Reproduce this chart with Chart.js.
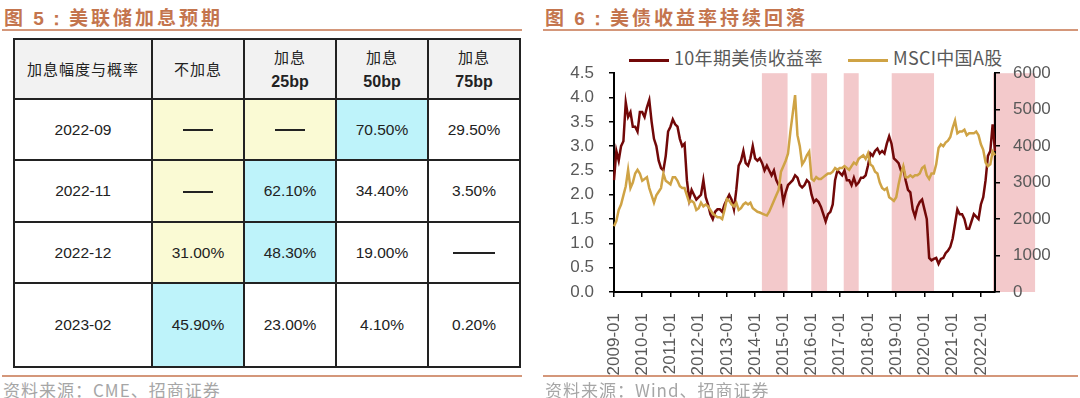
<!DOCTYPE html>
<html lang="zh">
<head>
<meta charset="UTF-8">
<title>美联储加息预期 / 美债收益率持续回落</title>
<script src="https://cdn.jsdelivr.net/npm/chart.js"></script>
<style>
    body {
        margin: 0;
        width: 1080px;
        height: 398px;
        background: #fff;
        overflow: hidden;
        position: relative;
        font-family: 'Liberation Sans', Arial, 'Noto Sans CJK SC', sans-serif;
    }
    .title {
        position: absolute;
        top: 3px;
        font-family: 'Noto Sans CJK SC', sans-serif;
        font-size: 19px;
        font-weight: bold;
        letter-spacing: 3px;
        color: #C4754E;
        white-space: nowrap;
    }
    .title b { font-family: 'Liberation Sans', Arial, sans-serif; }
    .rule {
        position: absolute;
        height: 2px;
        background: #D4977A;
    }
    .source {
        position: absolute;
        top: 377px;
        font-family: 'Noto Sans CJK SC', sans-serif;
        font-size: 17px;
        letter-spacing: 1px;
        color: #A6A6A6;
        white-space: nowrap;
    }
    table {
        position: absolute;
        left: 13px;
        top: 38px;
        border-collapse: collapse;
        table-layout: fixed;
        width: 506px;
    }
    td {
        border: 2px solid #222;
        text-align: center;
        vertical-align: middle;
        font-size: 15.5px;
        color: #222;
        padding: 0;
    }
    tr.head td {
        background: #F2F2F2;
        font-family: 'Noto Sans CJK SC', sans-serif;
        font-size: 15px;
        line-height: 24px;
        letter-spacing: 1px;
    }
    tr.head b { font-family: 'Liberation Sans', Arial, sans-serif; font-size: 16px; letter-spacing: 0; }
    .yl { background: #FAFAD4; }
    .cy { background: #BEF3FA; }
    .dash { display: inline-block; width: 30px; border-top: 2px solid #222; vertical-align: middle; }
    .dash.long { width: 42px; }
    #chart { position: absolute; left: 545px; top: 48px; }
    .legend {
        position: absolute;
        top: 46px;
        font-family: 'Noto Sans CJK SC', sans-serif;
        font-size: 18px;
        letter-spacing: 0.3px;
        color: #595959;
        white-space: nowrap;
        line-height: 22px;
    }
    .legend i {
        display: inline-block;
        width: 40px;
        height: 3px;
        vertical-align: middle;
        margin-right: 5px;
    }
</style>
</head>
<body>
    <div class="title" style="left:4px">图 <b>5：</b>美联储加息预期</div>
    <div class="rule" style="left:2px; width:520px; top:29px"></div>

    <table>
        <colgroup>
            <col style="width:138px"><col style="width:92px"><col style="width:92px"><col style="width:92px"><col style="width:92px">
        </colgroup>
        <tr class="head" style="height:60px">
            <td>加息幅度与概率</td>
            <td>不加息</td>
            <td>加息<br><b>25bp</b></td>
            <td>加息<br><b>50bp</b></td>
            <td>加息<br><b>75bp</b></td>
        </tr>
        <tr style="height:61px">
            <td>2022-09</td>
            <td class="yl"><span class="dash"></span></td>
            <td class="yl"><span class="dash"></span></td>
            <td class="cy">70.50%</td>
            <td>29.50%</td>
        </tr>
        <tr style="height:62px">
            <td>2022-11</td>
            <td class="yl"><span class="dash"></span></td>
            <td class="cy">62.10%</td>
            <td>34.40%</td>
            <td>3.50%</td>
        </tr>
        <tr style="height:61px">
            <td>2022-12</td>
            <td class="yl">31.00%</td>
            <td class="cy">48.30%</td>
            <td>19.00%</td>
            <td><span class="dash long"></span></td>
        </tr>
        <tr style="height:84px">
            <td>2023-02</td>
            <td class="cy">45.90%</td>
            <td>23.00%</td>
            <td>4.10%</td>
            <td>0.20%</td>
        </tr>
    </table>

    <div class="rule" style="left:2px; width:520px; top:375px"></div>
    <div class="source" style="left:3px">资料来源：CME、招商证券</div>

    <div class="title" style="left:545px">图 <b>6：</b>美债收益率持续回落</div>
    <div class="rule" style="left:543px; width:535px; top:29px"></div>

    <div class="legend" style="left:629px"><i style="background:#720808"></i>10年期美债收益率</div>
    <div class="legend" style="left:848px"><i style="background:#CFA345"></i>MSCI中国A股</div>

    <canvas id="chart" width="535" height="328"></canvas>

    <div class="rule" style="left:543px; width:535px; top:375px"></div>
    <div class="source" style="left:545px">资料来源：Wind、招商证券</div>

<script>
    // monthly, 2009-01 .. 2022-07
    const months = [];
    for (let y = 2009; y <= 2022; y++) {
        for (let m = 1; m <= 12; m++) {
            if (y === 2022 && m > 7) break;
            months.push(y + '-' + String(m).padStart(2, '0'));
        }
    }

    // 10年期美债收益率 (%)
    const yieldVals = [
        2.3, 2.9, 2.7, 3.0, 3.1, 3.9, 3.6, 3.7, 3.4, 3.4, 3.3, 3.7,
        3.7, 3.6, 3.8, 3.95, 3.5, 3.15, 3.0, 2.7, 2.55, 2.5, 2.8, 3.3,
        3.4, 3.55, 3.45, 3.4, 3.15, 3.0, 3.05, 2.3, 1.9, 2.1, 2.0, 1.9,
        1.95, 2.0, 2.3, 1.95, 1.8, 1.6, 1.5, 1.65, 1.7, 1.7, 1.65, 1.8,
        1.9, 2.0, 1.9, 1.7, 2.1, 2.6, 2.7, 2.9, 2.65, 2.6, 2.75, 3.0,
        2.75, 2.7, 2.75, 2.65, 2.5, 2.6, 2.5, 2.4, 2.5, 2.3, 2.2, 2.2,
        1.85, 2.05, 2.2, 2.25, 2.3, 2.4, 2.35, 2.2, 2.15, 2.2, 2.3, 2.25,
        2.0, 1.85, 1.9, 1.85, 1.75, 1.6, 1.45, 1.6, 1.65, 1.8, 2.3, 2.5,
        2.45, 2.4, 2.5, 2.3, 2.3, 2.2, 2.35, 2.2, 2.25, 2.35, 2.35, 2.4,
        2.6, 2.85, 2.8, 2.9, 2.95, 2.85, 2.9, 2.85, 3.05, 3.2, 3.05, 2.75,
        2.7, 2.65, 2.5, 2.55, 2.3, 2.1, 2.05, 1.7, 1.55, 1.75, 1.85, 1.9,
        1.7, 1.5, 0.7, 0.65, 0.68, 0.7, 0.58, 0.68, 0.7, 0.8, 0.85, 0.93,
        1.1, 1.4, 1.7, 1.6, 1.6, 1.5, 1.3, 1.3, 1.45, 1.6, 1.55, 1.5,
        1.8, 1.95, 2.3, 2.8, 2.9, 3.45, 2.9
    ];

    // MSCI中国A股 (right axis)
    const msciVals = [
        1800, 1950, 2250, 2400, 2650, 2900, 3350, 2850, 3000, 3250, 3350, 3250,
        3050, 3100, 3150, 2850, 2650, 2450, 2650, 2750, 2850, 3250, 3050, 3000,
        2950, 3150, 3150, 3050, 2900, 2850, 2850, 2650, 2450, 2500, 2450, 2250,
        2300, 2450, 2350, 2400, 2350, 2250, 2150, 2100, 2050, 2050, 2000, 2250,
        2550, 2500, 2400, 2350, 2450, 2250, 2300, 2400, 2450, 2400, 2450, 2300,
        2250, 2200, 2180, 2150, 2120, 2100, 2200, 2350, 2500, 2650, 2800, 3300,
        3450, 3600, 3800, 4400, 4900, 5400, 4300, 4000, 3500, 3600, 3750, 3850,
        3100, 3050, 3150, 3100, 3100, 3150, 3200, 3250, 3250, 3300, 3400, 3350,
        3400, 3400, 3450, 3400, 3350, 3450, 3550, 3500, 3650, 3700, 3750, 3650,
        3800, 3500, 3450, 3300, 3250, 3000, 2850, 2800, 2850, 2600, 2550, 2500,
        2600, 2950, 3250, 3450, 3150, 3150, 3200, 3150, 3200, 3200, 3250, 3400,
        3450, 3200, 3100, 3250, 3250, 3500, 3950, 4050, 4000, 4100, 4150, 4250,
        4500, 4700, 4350, 4400, 4400, 4450, 4300, 4350, 4350, 4350, 4400, 4300,
        4050, 3900, 3550, 3450, 3500, 3850, 3750
    ];

    // shaded periods (decimal years)
    const bandStart = [2014.24, 2015.99, 2017.14, 2018.84, 2022.43];
    const bandEnd   = [2015.15, 2016.55, 2017.67, 2020.34, 2023.92];

    const toIndex = yr => (yr - 2009) * 12;

    const bandPlugin = {
        id: 'bands',
        beforeDraw(chart) {
            const { ctx, scales } = chart;
            const x = scales.x, yR = scales.y2;
            const top = yR.getPixelForValue(6000);
            const bottom = yR.getPixelForValue(0);
            ctx.save();
            ctx.fillStyle = '#F3C9CB';
            bandStart.forEach((s, i) => {
                const x0 = x.getPixelForValue(toIndex(s));
                const x1 = x.getPixelForValue(toIndex(bandEnd[i]));
                ctx.fillRect(x0, top, x1 - x0, bottom - top);
            });
            ctx.restore();
        }
    };

    const tickFont = { family: "'Liberation Sans', Arial, sans-serif", size: 17 };
    const axisGrid = { drawOnChartArea: false, drawTicks: true, tickLength: 5, color: '#000', lineWidth: 1.5 };
    const axisBorder = { display: true, color: '#000', width: 2 };

    new Chart(document.getElementById('chart'), {
        type: 'line',
        data: {
            labels: months,
            datasets: [
                {
                    label: '10年期美债收益率',
                    data: yieldVals,
                    yAxisID: 'y',
                    borderColor: '#720808',
                    borderWidth: 2.5,
                    pointRadius: 0,
                    tension: 0,
                    order: 1
                },
                {
                    label: 'MSCI中国A股',
                    data: msciVals,
                    yAxisID: 'y2',
                    borderColor: '#CFA345',
                    borderWidth: 2.5,
                    pointRadius: 0,
                    tension: 0,
                    order: 0
                }
            ]
        },
        options: {
            responsive: false,
            animation: false,
            devicePixelRatio: 1,
            layout: { padding: { top: 14, left: 0, right: 0, bottom: 0 } },
            plugins: {
                legend: { display: false },
                tooltip: { enabled: false }
            },
            scales: {
                x: {
                    grid: axisGrid,
                    border: axisBorder,
                    ticks: {
                        autoSkip: false,
                        minRotation: 90,
                        maxRotation: 90,
                        padding: 16,
                        color: '#595959',
                        font: tickFont,
                        callback: v => months[v]
                    },
                    afterBuildTicks: scale => {
                        scale.ticks = scale.ticks.filter(t => months[t.value].endsWith('-01'));
                    },
                    afterFit: scale => { scale.height = 84; }
                },
                y: {
                    position: 'left',
                    min: 0,
                    max: 4.5,
                    grid: axisGrid,
                    border: axisBorder,
                    ticks: {
                        stepSize: 0.5,
                        autoSkip: false,
                        padding: 15,
                        color: '#595959',
                        font: tickFont,
                        callback: v => v.toFixed(1)
                    },
                    afterFit: scale => { scale.width = 69; }
                },
                y2: {
                    position: 'right',
                    min: 0,
                    max: 6000,
                    grid: axisGrid,
                    border: axisBorder,
                    ticks: {
                        stepSize: 1000,
                        autoSkip: false,
                        padding: 13,
                        color: '#595959',
                        font: tickFont,
                        callback: v => String(v)
                    },
                    afterFit: scale => { scale.width = 85; }
                }
            }
        },
        plugins: [bandPlugin]
    });
</script>
</body>
</html>
